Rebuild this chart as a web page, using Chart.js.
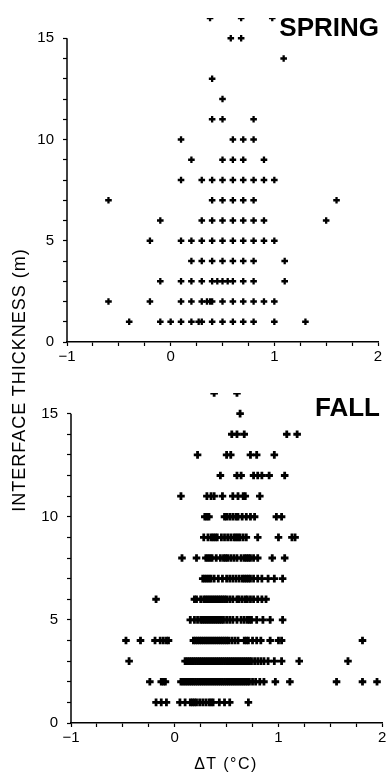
<!DOCTYPE html>
<html>
<head>
<meta charset="utf-8">
<script src="https://cdn.jsdelivr.net/npm/chart.js@4.4.1/dist/chart.umd.min.js"></script>
<style>
  body { margin: 0; background: #fff; }
  #wrap { position: relative; width: 389px; height: 773px; font-family: "Liberation Sans", Arial, sans-serif; color: #000; }
  canvas { position: absolute; left: 0; }
  .season { position: absolute; font-weight: bold; font-size: 26px; line-height: 26px; }
  #ylabel { position: absolute; left: -131px; top: 370px; width: 300px; height: 20px; line-height: 20px;
            text-align: center; font-size: 18px; letter-spacing: 1px; transform: rotate(-90deg); white-space: nowrap; }
  #xlabel { position: absolute; left: 126px; top: 756px; width: 200px; line-height: 16px; font-size: 16px;
            text-align: center; letter-spacing: 1.5px; }
</style>
</head>
<body>
<div id="wrap">
  <canvas id="spring" width="389" height="375" style="top:0"></canvas>
  <canvas id="fall" width="389" height="398" style="top:375px"></canvas>
  <div class="season" style="right:10px; top:14px">SPRING</div>
  <div class="season" style="right:9px; top:394px">FALL</div>
  <div id="ylabel">INTERFACE THICKNESS (m)</div>
  <div id="xlabel">ΔT (°C)</div>
</div>
<script>
// interface thickness (m), one row of dT readings per thickness
const thickness = [1, 2, 3, 4, 5, 6, 7, 8, 9, 10, 11, 12, 13, 14, 15, 16];

const springDT = [
  [-0.4, -0.1, 0, 0.1, 0.2, 0.27, 0.3, 0.4, 0.5, 0.6, 0.7, 0.8, 1.0, 1.3],
  [-0.6, -0.2, 0.1, 0.2, 0.3, 0.35, 0.38, 0.4, 0.5, 0.6, 0.7, 0.8, 0.9, 1.0],
  [-0.1, 0.1, 0.2, 0.3, 0.4, 0.45, 0.5, 0.55, 0.6, 0.7, 0.8, 1.1],
  [0.2, 0.3, 0.4, 0.5, 0.6, 0.7, 0.8, 1.1],
  [-0.2, 0.1, 0.2, 0.3, 0.4, 0.5, 0.6, 0.7, 0.8, 0.9, 1.0],
  [-0.1, 0.3, 0.4, 0.5, 0.6, 0.7, 0.8, 0.9, 1.5],
  [-0.6, 0.4, 0.5, 0.6, 0.7, 0.8, 1.6],
  [0.1, 0.3, 0.4, 0.5, 0.6, 0.7, 0.8, 0.9, 1.0],
  [0.2, 0.5, 0.6, 0.7, 0.9],
  [0.1, 0.6, 0.7, 0.8],
  [0.4, 0.5, 0.8],
  [0.5],
  [0.4],
  [1.09],
  [0.58, 0.68],
  [0.38, 0.68, 0.98]
];

const fallDT = [
  [-0.18, -0.13, -0.08, 0.05, 0.1, 0.15, 0.17, 0.19, 0.21, 0.24, 0.27, 0.3, 0.33, 0.35, 0.37, 0.43, 0.48, 0.53, 0.71],
  [-0.24, -0.13, -0.11, -0.09, 0.06, 0.08, 0.1, 0.12, 0.14, 0.16, 0.18, 0.2, 0.22, 0.24, 0.26, 0.28, 0.3, 0.32, 0.34,
   0.36, 0.38, 0.4, 0.42, 0.44, 0.46, 0.48, 0.5, 0.52, 0.54, 0.56, 0.58, 0.6, 0.62, 0.64, 0.66, 0.68, 0.7, 0.72, 0.75,
   0.78, 0.82, 0.86, 0.97, 1.11, 1.56, 1.81, 1.95],
  [-0.44, 0.1, 0.12, 0.14, 0.16, 0.18, 0.2, 0.22, 0.24, 0.26, 0.28, 0.3, 0.32, 0.34, 0.36, 0.38, 0.4, 0.42, 0.44, 0.46,
   0.48, 0.5, 0.52, 0.54, 0.56, 0.58, 0.6, 0.62, 0.64, 0.66, 0.68, 0.7, 0.72, 0.74, 0.77, 0.8, 0.83, 0.86, 0.9, 0.96,
   1.03, 1.2, 1.67],
  [-0.47, -0.33, -0.19, -0.14, -0.11, -0.08, -0.06, 0.18, 0.2, 0.22, 0.24, 0.26, 0.28, 0.3, 0.32, 0.34, 0.36, 0.38,
   0.4, 0.42, 0.44, 0.46, 0.48, 0.5, 0.52, 0.55, 0.58, 0.61, 0.67, 0.69, 0.71, 0.75, 0.79, 0.83, 0.92, 1.0, 1.03, 1.81],
  [0.15, 0.19, 0.22, 0.25, 0.27, 0.29, 0.31, 0.33, 0.35, 0.37, 0.39, 0.41, 0.43, 0.45, 0.47, 0.5, 0.53, 0.56, 0.6,
   0.64, 0.67, 0.7, 0.72, 0.74, 0.79, 0.85, 0.92, 1.04],
  [-0.18, 0.19, 0.21, 0.25, 0.28, 0.3, 0.32, 0.34, 0.36, 0.38, 0.4, 0.42, 0.44, 0.46, 0.48, 0.5, 0.53, 0.56, 0.6,
   0.62, 0.65, 0.68, 0.7, 0.73, 0.76, 0.8, 0.84, 0.88],
  [0.27, 0.29, 0.31, 0.33, 0.35, 0.38, 0.42, 0.46, 0.5, 0.53, 0.56, 0.59, 0.62, 0.65, 0.67, 0.69, 0.71, 0.73, 0.76,
   0.8, 0.84, 0.9, 0.96, 1.04],
  [0.07, 0.21, 0.3, 0.32, 0.34, 0.36, 0.4, 0.44, 0.47, 0.49, 0.51, 0.54, 0.57, 0.6, 0.64, 0.67, 0.69, 0.71, 0.73,
   0.76, 0.8, 0.94, 1.06],
  [0.28, 0.32, 0.35, 0.37, 0.39, 0.41, 0.45, 0.48, 0.51, 0.54, 0.57, 0.59, 0.61, 0.63, 0.66, 0.69, 0.8, 1.0, 1.13, 1.16],
  [0.29, 0.31, 0.33, 0.48, 0.5, 0.53, 0.56, 0.59, 0.61, 0.65, 0.69, 0.73, 0.77, 0.98, 1.03],
  [0.06, 0.31, 0.35, 0.38, 0.46, 0.56, 0.61, 0.66, 0.68, 0.82],
  [0.44, 0.6, 0.64, 0.76, 0.8, 0.84, 0.91, 1.06],
  [0.22, 0.5, 0.54, 0.73, 0.79, 0.96],
  [0.55, 0.6, 0.67, 1.08, 1.18],
  [0.63],
  [0.38, 0.6]
];

// x ticks every 0.25, only whole degrees get a label
const xLabels = { "-1": "\u22121", "0": "0", "1": "1", "2": "2" };
const yLabels = [0, 5, 10, 15];

// y axis line only runs up to 15 m, points at 16 sit above it
const yAxisLine = {
  id: "yAxisLine",
  afterDraw: function (chart) {
    const y = chart.scales.y;
    const ctx = chart.ctx;
    ctx.save();
    ctx.strokeStyle = "#000";
    ctx.lineWidth = 1.5;
    ctx.beginPath();
    ctx.moveTo(chart.chartArea.left, y.getPixelForValue(0) + 0.75);
    ctx.lineTo(chart.chartArea.left, y.getPixelForValue(15));
    ctx.stroke();
    ctx.restore();
  }
};

function makeChart(id, rows, pad, yWidth, xHeight, size, weight) {
  const pts = [];
  thickness.forEach(function (t, i) {
    rows[i].forEach(function (v) {
      pts.push({ x: v, y: t });
    });
  });

  const font = { family: "'Liberation Sans', Arial, sans-serif", size: 15 };

  return new Chart(document.getElementById(id).getContext("2d"), {
    type: "scatter",
    data: {
      datasets: [{
        data: pts,
        pointStyle: "cross",
        pointRadius: size,
        borderWidth: weight,
        borderColor: "#000",
        backgroundColor: "#000"
      }]
    },
    options: {
      responsive: false,
      animation: false,
      layout: { padding: pad },
      plugins: { legend: { display: false }, tooltip: { enabled: false } },
      scales: {
        x: {
          type: "linear",
          min: -1,
          max: 2,
          afterFit: function (s) { s.height = xHeight; },
          ticks: {
            stepSize: 0.25,
            autoSkip: false,
            maxRotation: 0,
            color: "#000",
            font: font,
            padding: 2,
            callback: function (v) {
              const k = String(Math.round(v * 100) / 100);
              return xLabels[k] !== undefined ? xLabels[k] : "";
            }
          },
          grid: { drawOnChartArea: false, tickLength: 4, tickColor: "#000", tickWidth: 1.2 },
          border: { display: true, color: "#000", width: 1.5 }
        },
        y: {
          min: 0,
          max: 16,
          afterFit: function (s) { s.width = yWidth; },
          ticks: {
            stepSize: 1,
            autoSkip: false,
            color: "#000",
            font: font,
            padding: 9,
            callback: function (v) {
              return yLabels.indexOf(v) >= 0 ? v : "";
            }
          },
          grid: {
            drawOnChartArea: false,
            tickLength: 4,
            tickWidth: 1.2,
            tickColor: function (c) {
              return c.tick && c.tick.value > 15 ? "rgba(0,0,0,0)" : "#000";
            }
          },
          border: { display: false }
        }
      }
    },
    plugins: [yAxisLine]
  });
}

makeChart("spring", springDT, { top: 9, right: 11, left: 0, bottom: 0 }, 67, 33, 3.3, 2.3);
makeChart("fall", fallDT, { top: 14, right: 6, left: 0, bottom: 0 }, 71, 50, 3.8, 2.8);
</script>
</body>
</html>
